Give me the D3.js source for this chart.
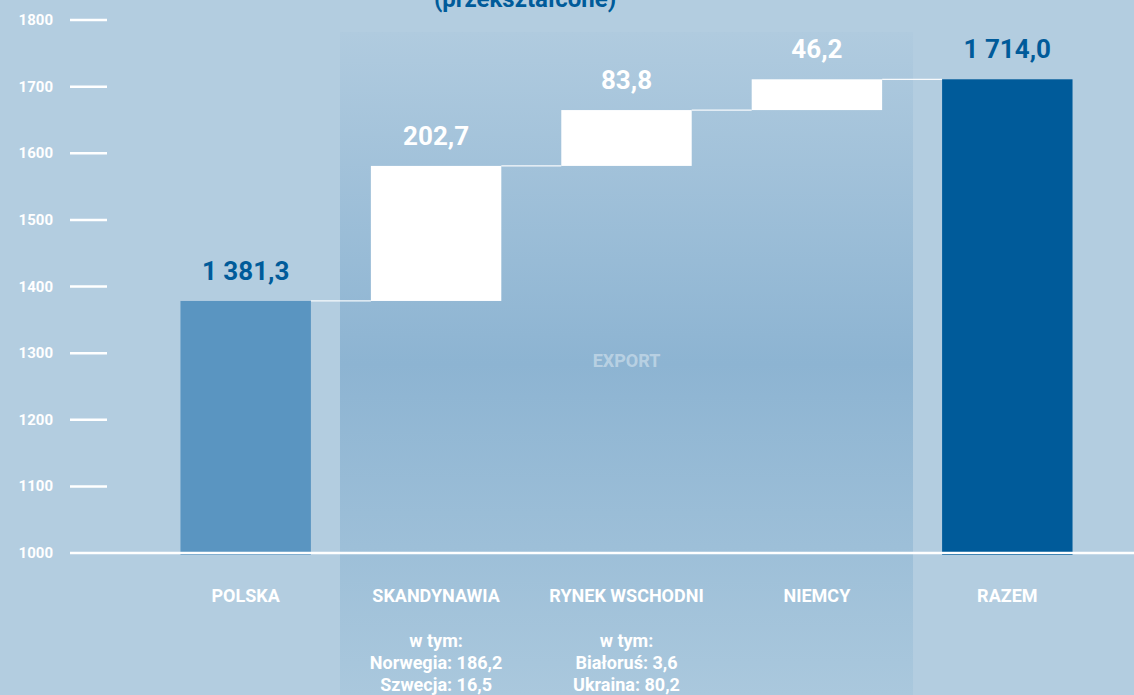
<!DOCTYPE html>
<html><head><meta charset="utf-8">
<script src="https://cdn.jsdelivr.net/npm/d3@7/dist/d3.min.js"></script>
<style>
html,body{margin:0;padding:0;background:#b3cde0;overflow:hidden}
text{font-family:Roboto,"Open Sans",sans-serif;font-weight:700}
</style></head><body>
<svg id="c" width="1134" height="695"></svg>
<script>
const categories = ["POLSKA","SKANDYNAWIA","RYNEK WSCHODNI","NIEMCY","RAZEM"];
const values = [1381.3, 202.7, 83.8, 46.2, 1714.0];
const valueLabels = ["1 381,3","202,7","83,8","46,2","1 714,0"];
const kinds = ["total","delta","delta","delta","total"];
const subLabels = [[],["w tym:","Norwegia: 186,2","Szwecja: 16,5"],["w tym:","Białoruś: 3,6","Ukraina: 80,2"],[],[]];
const yTicks = [1000,1100,1200,1300,1400,1500,1600,1700,1800];
const title = "(przekształcone)";
const panelLabel = "EXPORT";

const svg = d3.select("#c");
const W = 1134, H = 695;
const y = d3.scaleLinear().domain([1000,1800]).range([553,20]);
const x = d3.scaleBand().domain(categories).range([150,1103]).paddingInner(0.315).paddingOuter(0.16);

let run = 0;
const bars = categories.map((c,i)=>{
  let lo, hi;
  if (kinds[i]==="total"){ lo=1000; hi=values[i]; run=values[i]; }
  else { lo=run; hi=run+values[i]; run=hi; }
  return {c, lo, hi, i};
});

const defs = svg.append("defs");
const g = defs.append("linearGradient").attr("id","pg").attr("x1",0).attr("x2",0).attr("y1",0).attr("y2",1);
g.append("stop").attr("offset","0%").attr("stop-color","#b0cbdf");
g.append("stop").attr("offset","50%").attr("stop-color","#8db4d2");
g.append("stop").attr("offset","100%").attr("stop-color","#aac8dd");
const px0 = 340;
const px1 = 913;
svg.append("rect").attr("x",px0).attr("y",32).attr("width",px1-px0).attr("height",H-32).attr("fill","url(#pg)");

svg.append("text").attr("x",x("RYNEK WSCHODNI")+x.bandwidth()/2).attr("y",y(1300)+14).attr("text-anchor","middle")
  .attr("fill","#ffffff").attr("fill-opacity",0.4).attr("font-size",18).text(panelLabel);

svg.append("text").attr("x",525).attr("y",7).attr("text-anchor","middle").attr("fill","#005b9a")
  .attr("font-size",24).text(title);

const ya = svg.append("g");
ya.selectAll("line").data(yTicks.slice(1)).join("line")
  .attr("x1",70).attr("x2",107).attr("y1",d=>y(d)).attr("y2",d=>y(d))
  .attr("stroke","#fff").attr("stroke-width",2.5);
ya.selectAll("text").data(yTicks).join("text")
  .attr("x",53).attr("y",d=>y(d)+5).attr("text-anchor","end").attr("fill","#fff").attr("font-size",15).text(d=>d);

for (let i=0;i<bars.length-1;i++){
  const lv = bars[i].hi;
  svg.append("line").attr("x1",x(categories[i])+x.bandwidth()).attr("x2",x(categories[i+1]))
    .attr("y1",y(lv)+2).attr("y2",y(lv)+2).attr("stroke","#fff").attr("stroke-width",1.2).attr("stroke-opacity",0.9);
}

const barColor = i => i===0 ? "#5a95c1" : (i===4 ? "#005b9a" : "#ffffff");
svg.selectAll("rect.bar").data(bars).join("rect").attr("class","bar")
  .attr("x",d=>x(d.c)).attr("width",x.bandwidth())
  .attr("y",d=>y(d.hi)+2).attr("height",d=>y(d.lo)-y(d.hi))
  .attr("fill",d=>barColor(d.i));

svg.append("line").attr("x1",70).attr("x2",W).attr("y1",y(1000)).attr("y2",y(1000)).attr("stroke","#fff").attr("stroke-width",2.5);

svg.selectAll("text.val").data(bars).join("text").attr("class","val")
  .attr("x",d=>x(d.c)+x.bandwidth()/2).attr("y",d=>y(d.hi)-19)
  .attr("text-anchor","middle").attr("font-size",26)
  .attr("fill",d=>kinds[d.i]==="total" ? "#005b9a" : "#ffffff")
  .text(d=>valueLabels[d.i]);

svg.selectAll("text.cat").data(categories).join("text").attr("class","cat")
  .attr("x",d=>x(d)+x.bandwidth()/2).attr("y",602).attr("text-anchor","middle")
  .attr("fill","#fff").attr("font-size",18).text(d=>d);

categories.forEach((c,i)=>{
  subLabels[i].forEach((s,j)=>{
    svg.append("text").attr("x",x(c)+x.bandwidth()/2).attr("y",647+j*22).attr("text-anchor","middle")
      .attr("fill","#fff").attr("font-size",18).text(s);
  });
});
</script></body></html>
